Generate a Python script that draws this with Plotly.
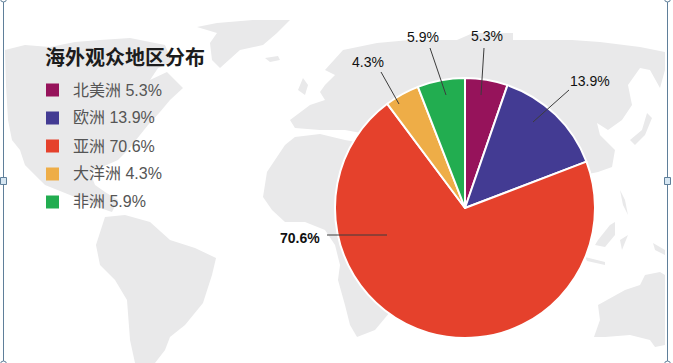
import plotly.graph_objects as go

W, H = 673, 363

categories = ["北美洲", "欧洲", "亚洲", "大洋洲", "非洲"]
values = [5.3, 13.9, 70.6, 4.3, 5.9]
colors = ["#96135b", "#433b93", "#e5412c", "#eead47", "#22ad50"]
title = "海外观众地区分布"

# Decorative backdrop: hand-traced continents, in image pixels
north_america = [(5,50),(25,45),(50,47),(75,42),(100,40),(130,38),(165,45),(172,62),(158,68),(150,80),(167,72),(183,88),(170,100),(160,112),(148,125),(140,135),(128,150),(118,160),(100,168),(90,172),(95,185),(105,192),(118,200),(112,212),(100,208),(75,197),(45,185),(25,165),(20,150),(12,140),(8,120),(6,85)]
greenland = [(197,27),(217,23),(253,20),(290,20),(277,33),(263,45),(240,50),(220,68),(212,60),(210,43),(217,33)]
iceland = [(265,58),(278,56),(280,60),(270,62)]
south_america = [(105,217),(125,215),(150,222),(170,240),(195,248),(216,258),(212,275),(203,303),(185,325),(170,337),(165,350),(155,363),(135,363),(130,340),(127,300),(115,280),(100,265),(96,245)]
africa = [(263,197),(267,172),(285,145),(295,137),(320,134),(345,140),(400,150),(400,300),(375,330),(357,337),(350,325),(345,305),(338,280),(340,265),(335,245),(325,230),(305,222),(285,222),(272,210)]
eurasia = [(325,70),(343,50),(377,43),(410,40),(457,40),(473,33),(513,33),(513,40),(572,40),(600,42),(640,47),(665,52),(665,70),(660,88),(650,70),(640,68),(628,85),(632,105),(622,120),(608,130),(597,123),(600,135),(615,150),(612,167),(598,172),(560,180),(500,200),(400,150),(372,135),(345,130),(320,130),(295,128),(290,120),(310,105),(325,100),(320,92),(325,85),(335,75)]
britain = [(303,78),(308,85),(305,95),(298,90)]
japan = [(647,113),(652,118),(645,135),(635,145),(630,140),(642,130)]
philippines = [(620,190),(625,200),(628,215),(623,205)]
borneo = [(598,240),(610,225),(615,222),(615,235),(605,247),(595,245)]
java = [(585,257),(605,262),(605,265),(587,261)]
sulawesi = [(620,240),(628,235),(622,250)]
new_guinea = [(653,243),(665,250),(665,255),(655,250)]
australia = [(598,305),(625,290),(640,285),(645,275),(660,272),(665,275),(665,345),(655,347),(650,340),(630,335),(605,337),(594,337),(600,320)]
land = [north_america, greenland, iceland, south_america, africa, eurasia, britain,
        japan, philippines, borneo, java, sulawesi, new_guinea, australia]

# Label text, label centre, leader start, leader end (image pixels)
callouts = [
    ("5.3%", 487, 36, (484, 48), (481, 95), False),
    ("13.9%", 590, 81, (569, 90), (533, 122), False),
    ("70.6%", 300, 238, (327, 235), (387, 235), True),
    ("4.3%", 368, 62, (381, 72), (399, 104), False),
    ("5.9%", 423, 37, (430, 48), (446, 95), False),
]


def px(x):
    return x / W


def py(y):
    return 1 - y / H


fig = go.Figure(go.Pie(
    labels=categories,
    values=values,
    sort=False,
    direction="clockwise",
    rotation=0,
    textinfo="none",
    hoverinfo="label+value",
    marker=dict(colors=colors, line=dict(color="white", width=2)),
    domain=dict(x=[px(335), px(595)], y=[py(338), py(78)]),
    showlegend=False,
))

shapes = []
for poly in land:
    path = "M" + "L".join(f"{px(x):.4f},{py(y):.4f}" for x, y in poly) + "Z"
    shapes.append(dict(type="path", path=path, xref="paper", yref="paper",
                       fillcolor="#e9e9ea", line=dict(width=0), layer="below"))

annotations = [dict(text=f"<b>{title}</b>", x=px(43), y=py(56), xref="paper", yref="paper",
                    xanchor="left", yanchor="middle", showarrow=False,
                    font=dict(family="Noto Sans CJK SC", size=20, color="#1c1c1c"))]

for i, (cat, val, col) in enumerate(zip(categories, values, colors)):
    cy = 90 + i * 28
    shapes.append(dict(type="rect", xref="paper", yref="paper",
                       x0=px(46), x1=px(59), y0=py(cy - 6.5), y1=py(cy + 6.5),
                       fillcolor=col, line=dict(width=0)))
    annotations.append(dict(text=f"{cat} {val}%", x=px(71), y=py(cy), xref="paper", yref="paper",
                            xanchor="left", yanchor="middle", showarrow=False,
                            font=dict(family="Liberation Sans, Noto Sans CJK SC", size=16, color="#555555")))

for text, tx, ty, a, b, bold in callouts:
    annotations.append(dict(text=f"<b>{text}</b>" if bold else text, x=px(tx), y=py(ty),
                            xref="paper", yref="paper", xanchor="center", yanchor="middle",
                            showarrow=False,
                            font=dict(family="Liberation Sans", size=14, color="#111111")))
    shapes.append(dict(type="line", xref="paper", yref="paper",
                       x0=px(a[0]), y0=py(a[1]), x1=px(b[0]), y1=py(b[1]),
                       line=dict(color="#3c3c3c", width=1)))

# Selection frame seen at the image edges
frame = "#5f7f9a"
for x in (3.5, 667.5):
    shapes.append(dict(type="line", xref="paper", yref="paper", x0=px(x), x1=px(x), y0=0, y1=1,
                       line=dict(color=frame, width=1)))
    shapes.append(dict(type="rect", xref="paper", yref="paper",
                       x0=px(x - 3), x1=px(x + 3), y0=py(184.5), y1=py(177.5),
                       fillcolor="#d6e6f2", line=dict(color=frame, width=1)))
    for cy in (-1, 364):
        shapes.append(dict(type="circle", xref="paper", yref="paper",
                           x0=px(x - 3), x1=px(x + 3), y0=py(cy + 3), y1=py(cy - 3),
                           fillcolor="white", line=dict(color=frame, width=1)))

fig.update_layout(
    width=W, height=H, autosize=False,
    margin=dict(l=0, r=0, t=0, b=0),
    paper_bgcolor="white", plot_bgcolor="white",
    shapes=shapes, annotations=annotations,
)
fig.write_html("out.html", config=dict(displayModeBar=False),
               post_script="document.body.style.margin='0';document.documentElement.style.overflow='hidden';")
